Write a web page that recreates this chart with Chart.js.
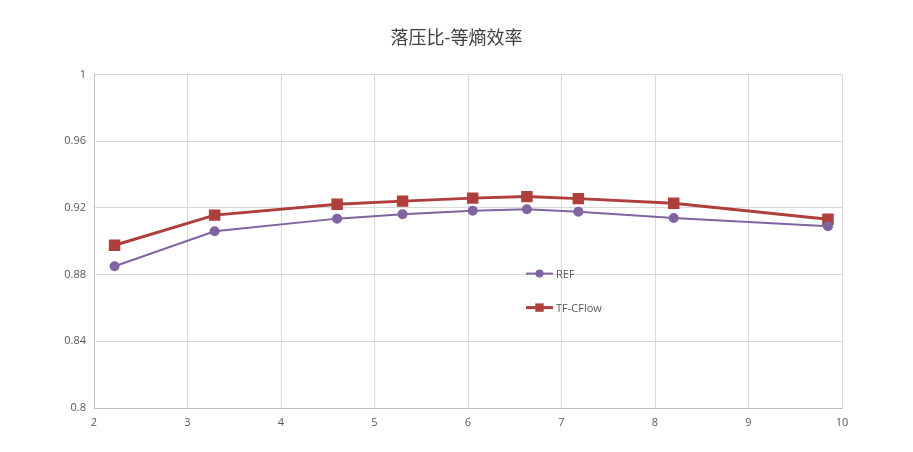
<!DOCTYPE html>
<html>
<head>
<meta charset="utf-8">
<script src="https://cdn.jsdelivr.net/npm/chart.js@4/dist/chart.umd.min.js"></script>
<style>
  html, body { margin: 0; padding: 0; background: #fff; }
  #wrap { width: 913px; height: 452px; }
</style>
</head>
<body>
<div id="wrap"><canvas id="chart" width="913" height="452"></canvas></div>
<script>
// pressure ratio (x) and isentropic efficiency (y)
const pressureRatio = [2.22, 3.29, 4.60, 5.30, 6.05, 6.63, 7.18, 8.20, 9.85];
const refEff = [0.885, 0.906, 0.9136, 0.9163, 0.9184, 0.9192, 0.9178, 0.914, 0.909];
const tfEff = [0.8976, 0.9157, 0.9222, 0.9241, 0.9259, 0.9268, 0.9256, 0.9228, 0.9132];
const xTicks = [2, 3, 4, 5, 6, 7, 8, 9, 10];
const yTicks = [0.8, 0.84, 0.88, 0.92, 0.96, 1];

const FONT = "'Open Sans', 'Noto Sans CJK SC', sans-serif";

function toPoints(xs, ys) {
    return xs.map((x, i) => ({ x: x, y: ys[i] }));
}

// legend drawn inside the plot, like the original
const innerLegend = {
    id: 'innerLegend',
    afterDraw(chart) {
        const ctx = chart.ctx;
        const area = chart.chartArea;
        const x0 = area.left + 432;
        const rows = [area.top + 199, area.top + 233];
        ctx.save();
        chart.data.datasets.forEach((ds, i) => {
            const y = rows[i];
            ctx.strokeStyle = ds.borderColor;
            ctx.lineWidth = ds.borderWidth;
            ctx.beginPath();
            ctx.moveTo(x0, y);
            ctx.lineTo(x0 + 27, y);
            ctx.stroke();
            ctx.fillStyle = ds.pointBackgroundColor;
            if (ds.pointStyle === 'rect') {
                const s = ds.pointRadius * 1.4;
                ctx.fillRect(x0 + 13.5 - s / 2, y - s / 2, s, s);
            } else {
                ctx.beginPath();
                ctx.arc(x0 + 13.5, y, ds.pointRadius, 0, Math.PI * 2);
                ctx.fill();
            }
            ctx.fillStyle = '#595959';
            ctx.font = '11px ' + FONT;
            ctx.textBaseline = 'middle';
            ctx.textAlign = 'left';
            ctx.fillText(ds.label, x0 + 30, y + 1);
        });
        ctx.restore();
    }
};

new Chart(document.getElementById('chart').getContext('2d'), {
    type: 'scatter',
    data: {
        datasets: [{
            label: 'REF',
            data: toPoints(pressureRatio, refEff),
            showLine: true,
            borderColor: '#8064A2',
            backgroundColor: '#8064A2',
            pointBackgroundColor: '#8064A2',
            pointBorderColor: '#8064A2',
            borderWidth: 2,
            pointRadius: 4,
            pointStyle: 'circle'
        }, {
            label: 'TF-CFlow',
            data: toPoints(pressureRatio, tfEff),
            showLine: true,
            borderColor: '#AE3F3B',
            backgroundColor: '#AE3F3B',
            pointBackgroundColor: '#AE3F3B',
            pointBorderColor: '#AE3F3B',
            borderWidth: 3,
            pointRadius: 6,
            pointStyle: 'rect'
        }]
    },
    options: {
        responsive: false,
        animation: false,
        layout: { padding: 0 },
        plugins: {
            legend: { display: false },
            tooltip: { enabled: false },
            title: {
                display: true,
                text: '落压比-等熵效率',
                color: '#404040',
                font: { family: FONT, size: 18, weight: 'normal' },
                padding: { top: 28, bottom: 25 }
            }
        },
        scales: {
            x: {
                type: 'linear',
                min: 2,
                max: 10,
                afterBuildTicks: axis => { axis.ticks = xTicks.map(v => ({ value: v })); },
                afterFit: axis => { axis.height = 44; },
                ticks: {
                    color: '#595959',
                    font: { family: FONT, size: 11 },
                    padding: 8
                },
                grid: { color: '#d9d9d9', drawTicks: false },
                border: { color: '#bfbfbf' }
            },
            y: {
                type: 'linear',
                min: 0.8,
                max: 1,
                afterBuildTicks: axis => { axis.ticks = yTicks.map(v => ({ value: v })); },
                afterFit: axis => { axis.width = 94; },
                ticks: {
                    color: '#595959',
                    font: { family: FONT, size: 11 },
                    padding: 8,
                    callback: v => String(Math.round(v * 100) / 100)
                },
                grid: { color: '#d9d9d9', drawTicks: false },
                border: { color: '#bfbfbf' }
            },
            // empty right-hand axis that only reserves space, so the title stays centred on the page
            spacer: {
                type: 'linear',
                position: 'right',
                min: 0,
                max: 1,
                afterFit: axis => { axis.width = 71; },
                ticks: { display: false },
                grid: { display: false, drawTicks: false },
                border: { display: false }
            }
        }
    },
    plugins: [innerLegend]
});
</script>
</body>
</html>
